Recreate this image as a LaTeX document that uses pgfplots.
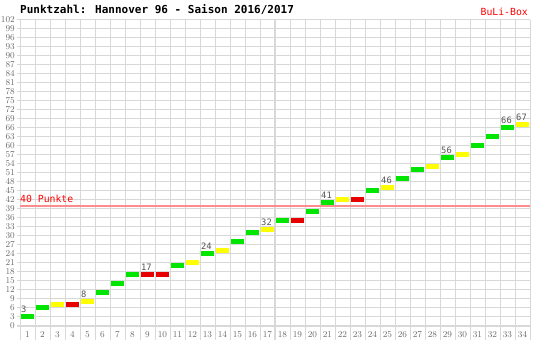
\documentclass[border=0pt]{standalone}
\usepackage{pgfplots}
\pgfplotsset{compat=1.18}
\usepackage{fontspec}
\setmainfont{DejaVu Sans Mono}
\definecolor{gridgray}{RGB}{216,216,216}
\definecolor{wgreen}{RGB}{0,230,0}
\definecolor{dyellow}{RGB}{255,255,0}
\definecolor{lred}{RGB}{230,0,0}
\definecolor{ticgray}{RGB}{105,105,105}
\definecolor{labgray}{RGB}{85,85,85}
\definecolor{pinkline}{RGB}{255,140,140}
\pgfdeclareplotmark{hbar}{\pgfpathrectangle{\pgfpoint{-6.5bp}{-2.5bp}}{\pgfpoint{13bp}{5bp}}\pgfusepathqfill}
\begin{document}
\begin{tikzpicture}
\useasboundingbox (0,0) rectangle (551bp,340bp);
\begin{axis}[
  at={(17bp,0bp)}, anchor=south west,
  scale only axis, width=513bp, height=320bp,
  xmin=0.3, xmax=34.5, ymin=-4.6667, ymax=102,
  axis line style={draw=none},
  tick style={draw=none},
  xtick={1,...,34},
  minor xtick={0.5,1.5,...,34.5},
  ytick={0,3,...,102},
  xminorgrids, ymajorgrids,
  major grid style={gridgray, line width=1bp},
  minor grid style={gridgray, line width=1bp},
  xticklabel style={anchor=center, yshift=5bp, font=\fontsize{8.8bp}{9bp}\selectfont, text=ticgray},
  yticklabel style={font=\fontsize{8.6bp}{9bp}\selectfont, text=ticgray, inner sep=1bp, xshift=-1bp},
  clip=false,
]
\draw[gridgray, line width=2.2bp] (axis cs:17.5,-4.6667) -- (axis cs:17.5,102);
\draw[gridgray, line width=2.2bp] (axis cs:0.3,0) -- (axis cs:34.5,0);
\draw[pinkline, line width=1.2bp] (axis cs:0.5,40) -- (axis cs:34.5,40);
\node[anchor=west, text=red, inner sep=0pt, font=\fontsize{9.8bp}{10bp}\selectfont] at (axis cs:0.5,42.33) {40 Punkte};
\addplot[scatter, only marks, scatter src=explicit symbolic,
  scatter/classes={w={mark=hbar, wgreen}, d={mark=hbar, dyellow}, l={mark=hbar, lred}}]
  table[meta=r] {
x y r
1 3 w
2 6 w
3 7 d
4 7 l
5 8 d
6 11 w
7 14 w
8 17 w
9 17 l
10 17 l
11 20 w
12 21 d
13 24 w
14 25 d
15 28 w
16 31 w
17 32 d
18 35 w
19 35 l
20 38 w
21 41 w
22 42 d
23 42 l
24 45 w
25 46 d
26 49 w
27 52 w
28 53 d
29 56 w
30 57 d
31 60 w
32 63 w
33 66 w
34 67 d
};
\addplot[draw=none, mark=none, nodes near coords, point meta=explicit symbolic,
  nodes near coords style={anchor=west, xshift=-6.5bp, yshift=8bp, inner sep=0pt, text=labgray, font=\fontsize{8.8bp}{9bp}\selectfont}]
  table[meta=l] {
x y l
1 3 3
5 8 8
9 17 17
13 24 24
17 32 32
21 41 41
25 46 46
29 56 56
33 66 66
34 67 67
};
\end{axis}
\node[anchor=west, inner sep=0pt, font=\fontsize{11bp}{12bp}\selectfont\bfseries] at (20bp,330.5bp) {Punktzahl: Hannover 96 - Saison 2016/2017};
\node[anchor=east, inner sep=0pt, text=red, font=\fontsize{9.8bp}{10bp}\selectfont] at (528bp,328.5bp) {BuLi-Box};
\end{tikzpicture}
\end{document}
